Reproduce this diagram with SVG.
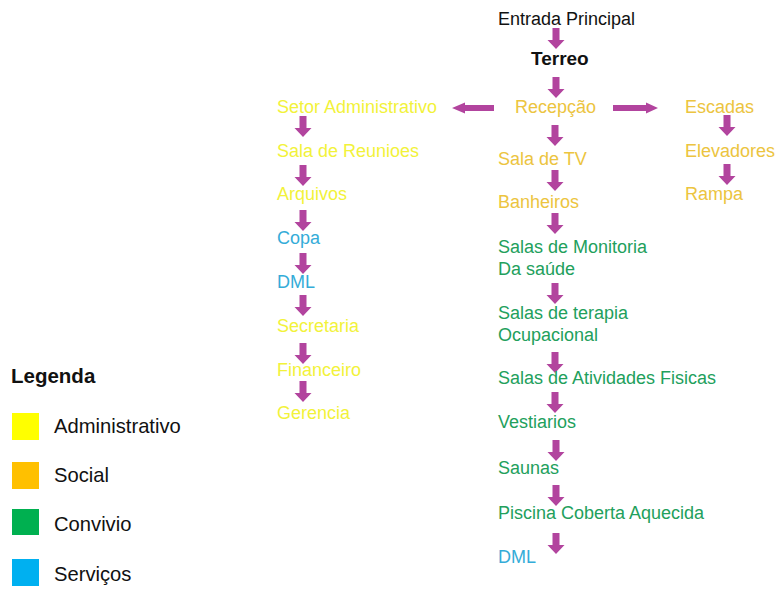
<svg xmlns="http://www.w3.org/2000/svg" xmlns:xlink="http://www.w3.org/1999/xlink" width="776" height="612" viewBox="0 0 776 612">
<style>
text{font-family:"Liberation Sans",Arial,sans-serif;}
.t{font-size:18px;}
.adm{fill:#f2f23a;}
.soc{fill:#ecc440;}
.con{fill:#22a05c;}
.ser{fill:#34acd8;}
.blk{fill:#111;}
.arr{fill:#b2449e;}
.lg{font-size:20.2px;fill:#111;}
</style>
<defs>
<path id="da" d="M-3.5,0 H3.5 V12 H8.5 L0,21 L-8.5,12 H-3.5 Z"/>
</defs>
<rect width="776" height="612" fill="#fff"/>
<g id="connectors" class="arr">
<use xlink:href="#da" x="556" y="28"/>
<use xlink:href="#da" x="556" y="77"/>
<path d="M494,105 V111 H465 V113.5 L452,108 L465,102.5 V105 Z"/>
<path d="M613,105 V111 H646 V113.5 L658,108 L646,102.5 V105 Z"/>
<use xlink:href="#da" x="303" y="116"/>
<use xlink:href="#da" x="303" y="165"/>
<use xlink:href="#da" x="303" y="210"/>
<use xlink:href="#da" x="303" y="253"/>
<use xlink:href="#da" x="303" y="295"/>
<use xlink:href="#da" x="303" y="343"/>
<use xlink:href="#da" x="303" y="381"/>
<use xlink:href="#da" x="555" y="125"/>
<use xlink:href="#da" x="555" y="170"/>
<use xlink:href="#da" x="555" y="213"/>
<use xlink:href="#da" x="555" y="283"/>
<use xlink:href="#da" x="555" y="352"/>
<use xlink:href="#da" x="555" y="392"/>
<use xlink:href="#da" x="556" y="440"/>
<use xlink:href="#da" x="556" y="485"/>
<use xlink:href="#da" x="556" y="533"/>
<use xlink:href="#da" x="727" y="115"/>
<use xlink:href="#da" x="727" y="164"/>
</g>
<g id="entrada"><text x="498" y="25" font-size="18" class="blk">Entrada Principal</text></g>
<g id="terreo"><text x="531" y="65" font-size="19" font-weight="bold" class="blk">Terreo</text></g>
<g id="recepcao"><text x="515" y="113" class="t soc">Recepção</text></g>
<g id="setor-adm"><text x="277" y="113" class="t adm">Setor Administrativo</text></g>
<g id="sala-reunioes"><text x="277" y="157" class="t adm">Sala de Reunioes</text></g>
<g id="arquivos"><text x="277" y="200" class="t adm">Arquivos</text></g>
<g id="copa"><text x="277" y="244" class="t ser">Copa</text></g>
<g id="dml-1"><text x="277" y="288" class="t ser">DML</text></g>
<g id="secretaria"><text x="277" y="332" class="t adm">Secretaria</text></g>
<g id="financeiro"><text x="277" y="376" class="t adm">Financeiro</text></g>
<g id="gerencia"><text x="277" y="419" class="t adm">Gerencia</text></g>
<g id="escadas"><text x="685" y="113" class="t soc">Escadas</text></g>
<g id="elevadores"><text x="685" y="157" class="t soc">Elevadores</text></g>
<g id="rampa"><text x="685" y="200" class="t soc">Rampa</text></g>
<g id="sala-tv"><text x="498" y="165" class="t soc">Sala de TV</text></g>
<g id="banheiros"><text x="498" y="208" class="t soc">Banheiros</text></g>
<g id="monitoria"><text x="498" y="253" class="t con">Salas de Monitoria</text><text x="498" y="275" class="t con">Da saúde</text></g>
<g id="terapia"><text x="498" y="319" class="t con">Salas de terapia</text><text x="498" y="341" class="t con">Ocupacional</text></g>
<g id="atividades"><text x="498" y="384" class="t con">Salas de Atividades Fisicas</text></g>
<g id="vestiarios"><text x="498" y="428" class="t con">Vestiarios</text></g>
<g id="saunas"><text x="498" y="474" class="t con">Saunas</text></g>
<g id="piscina"><text x="498" y="519" class="t con">Piscina Coberta Aquecida</text></g>
<g id="dml-2"><text x="498" y="563" class="t ser">DML</text></g>
<g id="legenda">
<text x="11" y="383" font-size="20.5" font-weight="bold" fill="#111">Legenda</text>
<rect x="12" y="413" width="27" height="27" fill="#ffff00"/>
<text x="54" y="433" class="lg">Administrativo</text>
<rect x="12" y="462" width="27" height="27" fill="#ffc000"/>
<text x="54" y="482" class="lg">Social</text>
<rect x="12" y="509" width="27" height="26" fill="#00b050"/>
<text x="54" y="531" class="lg">Convivio</text>
<rect x="12" y="559" width="27" height="27" fill="#00b0f0"/>
<text x="54" y="581" class="lg">Serviços</text>
</g>
</svg>
